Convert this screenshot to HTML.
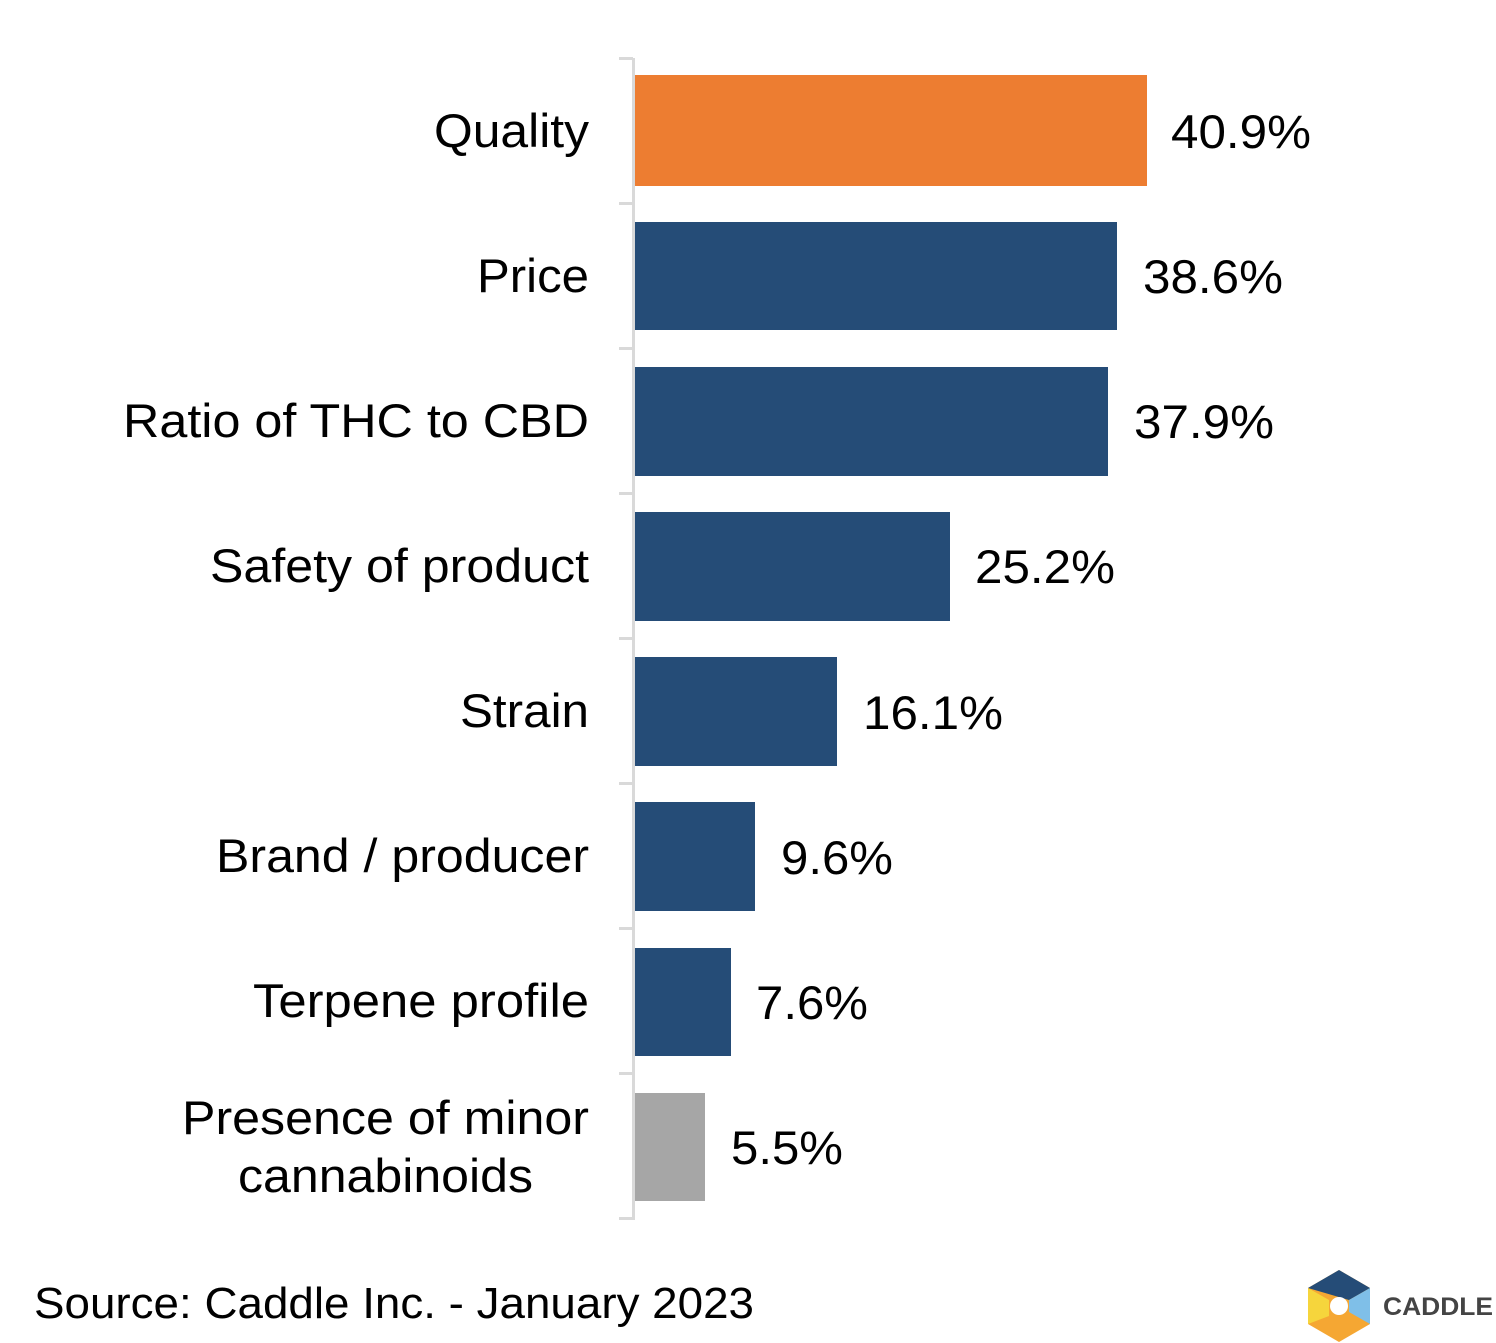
<!DOCTYPE html>
<html><head><style>body{margin:0;background:#fff}svg{display:block}</style></head>
<body>
<svg width="1496" height="1343" xmlns="http://www.w3.org/2000/svg" font-family="Liberation Sans, Arial, sans-serif">
<g fill="#d9d9d9">
<rect x="632" y="58" width="3" height="1162"/>
<rect x="619" y="57" width="14" height="3"/><rect x="619" y="202" width="14" height="3"/><rect x="619" y="347" width="14" height="3"/><rect x="619" y="492" width="14" height="3"/><rect x="619" y="637" width="14" height="3"/><rect x="619" y="782" width="14" height="3"/><rect x="619" y="927" width="14" height="3"/><rect x="619" y="1072" width="14" height="3"/><rect x="619" y="1217" width="14" height="3"/>
</g>
<rect x="635" y="75" width="512" height="111" fill="#ed7d31"/>
<g fill="#254c77">
<rect x="635" y="222" width="482" height="108"/>
<rect x="635" y="367" width="473" height="109"/>
<rect x="635" y="512" width="315" height="109"/>
<rect x="635" y="657" width="202" height="109"/>
<rect x="635" y="802" width="120" height="109"/>
<rect x="635" y="948" width="96" height="108"/>
</g>
<rect x="635" y="1093" width="70" height="108" fill="#a6a6a6"/>
<g font-size="47" fill="#000" lengthAdjust="spacingAndGlyphs">
<text x="434" y="147" textLength="155" lengthAdjust="spacingAndGlyphs">Quality</text>
<text x="477" y="292" textLength="112" lengthAdjust="spacingAndGlyphs">Price</text>
<text x="123" y="437" textLength="466" lengthAdjust="spacingAndGlyphs">Ratio of THC to CBD</text>
<text x="210" y="582" textLength="379" lengthAdjust="spacingAndGlyphs">Safety of product</text>
<text x="460" y="727" textLength="129" lengthAdjust="spacingAndGlyphs">Strain</text>
<text x="216" y="872" textLength="373" lengthAdjust="spacingAndGlyphs">Brand / producer</text>
<text x="253" y="1017" textLength="336" lengthAdjust="spacingAndGlyphs">Terpene profile</text>
<text x="182" y="1134" textLength="407" lengthAdjust="spacingAndGlyphs">Presence of minor</text>
<text x="238" y="1192" textLength="295" lengthAdjust="spacingAndGlyphs">cannabinoids</text>
</g>
<g font-size="47" fill="#000">
<text x="1171" y="148" textLength="140" lengthAdjust="spacingAndGlyphs">40.9%</text>
<text x="1143" y="293" textLength="140" lengthAdjust="spacingAndGlyphs">38.6%</text>
<text x="1134" y="438" textLength="140" lengthAdjust="spacingAndGlyphs">37.9%</text>
<text x="975" y="583" textLength="140" lengthAdjust="spacingAndGlyphs">25.2%</text>
<text x="863" y="729" textLength="140" lengthAdjust="spacingAndGlyphs">16.1%</text>
<text x="781" y="874" textLength="112" lengthAdjust="spacingAndGlyphs">9.6%</text>
<text x="756" y="1019" textLength="112" lengthAdjust="spacingAndGlyphs">7.6%</text>
<text x="731" y="1164" textLength="112" lengthAdjust="spacingAndGlyphs">5.5%</text>
</g>
<text x="34" y="1318" font-size="44" textLength="720" lengthAdjust="spacingAndGlyphs">Source: Caddle Inc. - January 2023</text>
<g transform="translate(1339,1306)">
<polygon points="0,-36 31,-18 31,18 0,36 -31,18 -31,-18" fill="#f5a733"/>
<polygon points="0,-36 31,-18 10,-6 -31,-18" fill="#254c77"/>
<polygon points="31,-18 31,18 10,6 10,-6" fill="#7fbfe8"/>
<polygon points="-31,-18 -10,-6 -10,10 -31,18" fill="#f6d53c"/>
<circle cx="0" cy="0" r="9" fill="#fff"/>
</g>
<text x="1383" y="1315" font-size="25" font-weight="bold" fill="#444" textLength="110" lengthAdjust="spacingAndGlyphs">CADDLE</text>
</svg>
</body></html>
